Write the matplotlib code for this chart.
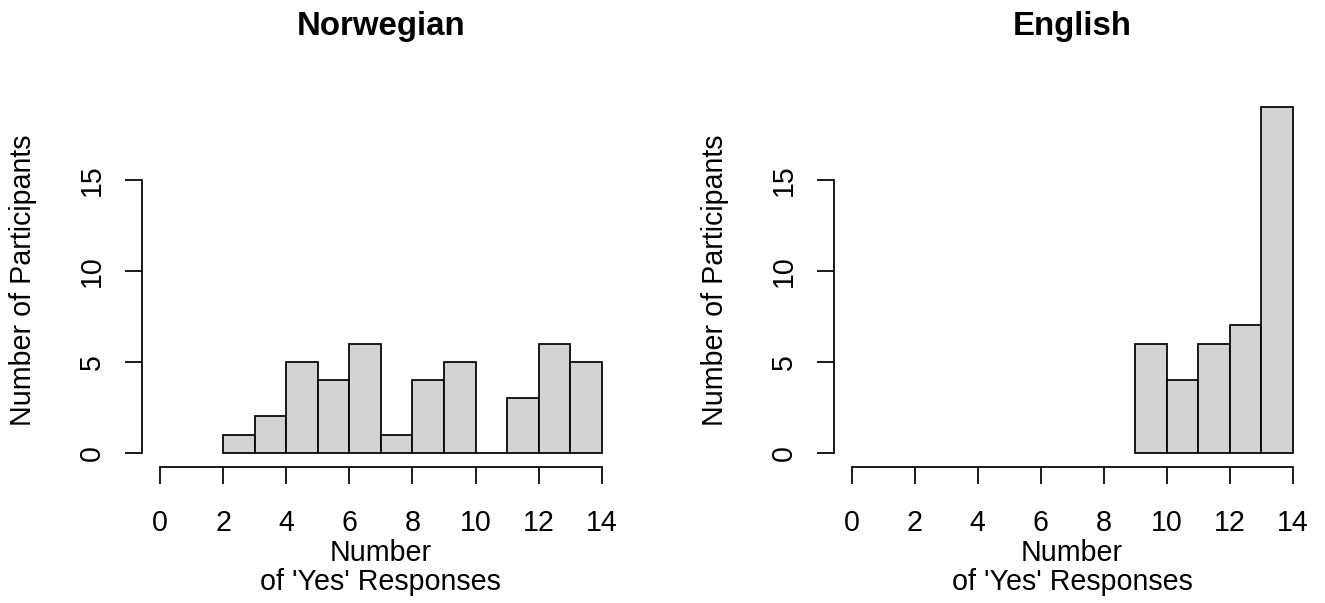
import matplotlib
matplotlib.use("Agg")
import matplotlib.pyplot as plt

# =========================
# DATA
# =========================
panel_titles = ["Norwegian", "English"]

nor_edges = [2, 3, 4, 5, 6, 7, 8, 9, 10, 11, 12, 13, 14]
nor_counts = [1, 2, 5, 4, 6, 1, 4, 5, 0, 3, 6, 5]

eng_edges = [9, 10, 11, 12, 13, 14]
eng_counts = [6, 4, 6, 7, 19]

x_ticks = [0, 2, 4, 6, 8, 10, 12, 14]
y_ticks = [0, 5, 10, 15]

x_label = "Number\nof 'Yes' Responses"
y_label = "Number of Participants"

# =========================
# STYLE
# =========================
W, H = 1325, 603
BASE = 20.6          # pt at dpi 100
TITLE = 23.8
LW = 1.25

plt.rcParams["font.family"] = ["Liberation Sans", "DejaVu Sans"]
plt.rcParams["font.size"] = BASE

fig = plt.figure(figsize=(W / 100, H / 100), dpi=100)

# plot regions in pixels: left, right, top, bottom
regions = [(142.3, 619.4, 93.5, 466.5), (834.0, 1310.3, 93.5, 466.5)]
datasets = [(nor_edges, nor_counts), (eng_edges, eng_counts)]

for (l, r, t, b), (edges, counts), title in zip(regions, datasets, panel_titles):
    ax = fig.add_axes([l / W, (H - b) / H, (r - l) / W, (b - t) / H])
    wpx, hpx = r - l, b - t

    ax.bar(edges[:-1], counts, width=1, align="edge", color="#D3D3D3",
           edgecolor="black", linewidth=LW, zorder=2)

    # R-style extended ranges (4% padding)
    ax.set_xlim(-0.56, 14.56)
    ax.set_ylim(-0.76, 19.76)

    for s in ["top", "right"]:
        ax.spines[s].set_visible(False)
    ax.spines["left"].set_bounds(0, 15)
    ax.spines["bottom"].set_bounds(0, 14)
    ax.spines["left"].set_linewidth(LW)
    ax.spines["bottom"].set_linewidth(LW)

    ax.set_xticks(x_ticks)
    ax.set_yticks(y_ticks)
    ax.tick_params(axis="both", direction="out", length=11.9, width=LW,
                   labelsize=BASE)
    ax.tick_params(axis="x", pad=18.6)
    ax.tick_params(axis="y", pad=14.0)
    plt.setp(ax.get_yticklabels(), rotation=90, va="center")

    ax.set_xlabel(x_label, linespacing=1.05)
    ax.xaxis.set_label_coords(0.5, (b - 539.0) / hpx)
    ax.set_ylabel(y_label)
    ax.yaxis.set_label_coords((37.5 - 142.3) / wpx, 0.5)

    ax.set_title(title, fontweight="bold", fontsize=TITLE,
                 y=(b - 35) / hpx, pad=0)

fig.savefig("out.png", dpi=100)
